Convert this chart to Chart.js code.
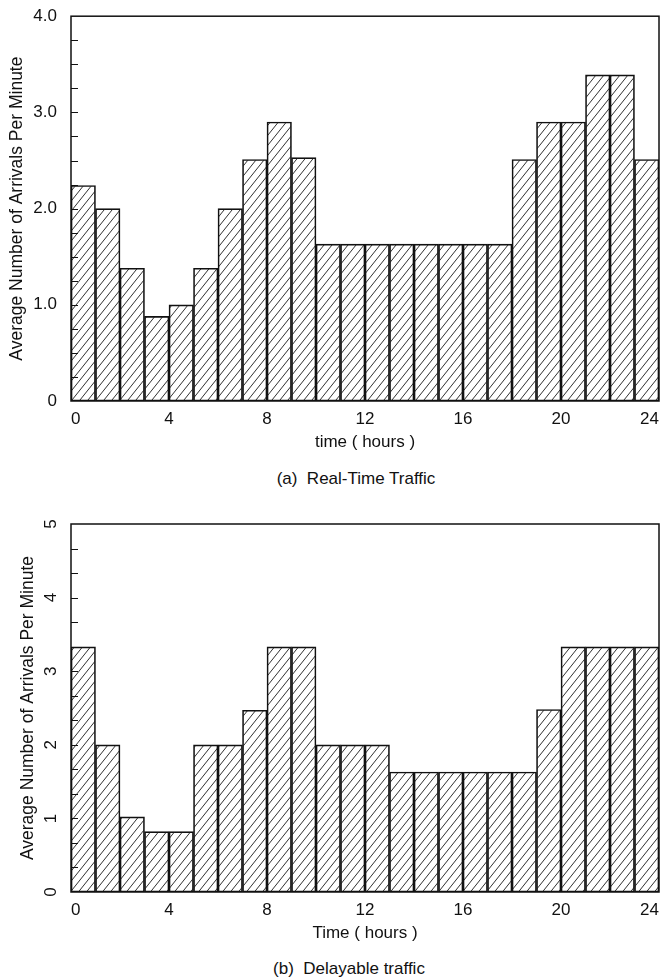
<!DOCTYPE html>
<html><head><meta charset="utf-8">
<script src="https://cdn.jsdelivr.net/npm/chart.js@4.4.1/dist/chart.umd.min.js"></script>
<style>
html,body{margin:0;padding:0;background:#fff;width:661px;height:977px;overflow:hidden;position:relative;}
canvas{position:absolute;left:0;}
.cap{position:absolute;font-family:'Liberation Sans',Arial,Helvetica,sans-serif;font-size:17px;color:#111;white-space:pre;transform:translate(-50%,-50%);line-height:1;}
</style></head><body>
<canvas id="chartA" width="661" height="460" style="top:0px"></canvas>
<div class="cap" style="left:356px;top:478px">(a)  Real-Time Traffic</div>
<canvas id="chartB" width="661" height="480" style="top:470px"></canvas>
<div class="cap" style="left:349px;top:968px">(b)  Delayable traffic</div>
<script>
// ---- data ----
const hourStart = [0,1,2,3,4,5,6,7,8,9,10,11,12,13,14,15,16,17,18,19,20,21,22,23];
const realTimeRate = [2.24,2.00,1.38,0.88,1.00,1.38,2.00,2.51,2.90,2.53,1.63,1.63,1.63,1.63,1.63,1.63,1.63,1.63,2.51,2.90,2.90,3.39,3.39,2.51];
const delayableRate = [3.33,2.00,1.02,0.82,0.82,2.00,2.00,2.47,3.33,3.33,2.00,2.00,2.00,1.63,1.63,1.63,1.63,1.63,1.63,2.48,3.33,3.33,3.33,3.33];
const xTickValues = [0,4,8,12,16,20,24];
const yTickValuesA = [0,1,2,3,4];
const yTickLabelsA = ['0','1.0','2.0','3.0','4.0'];
const yTickValuesB = [0,1,2,3,4,5];
const yTickLabelsB = ['0','1','2','3','4','5'];

const FONT = "'Liberation Sans', Arial, Helvetica, sans-serif";
Chart.defaults.font.family = FONT;
Chart.defaults.color = '#111';

function makeHatch() {
  const w = 8, h = 10;
  const c = document.createElement('canvas');
  c.width = w; c.height = h;
  const g = c.getContext('2d');
  g.strokeStyle = '#1a1a1a';
  g.lineWidth = 0.9;
  for (let k = -1; k <= 1; k++) {
    g.beginPath();
    g.moveTo(k * w - w, 2 * h);
    g.lineTo(k * w + 2 * w, -h);
    g.stroke();
  }
  return c;
}

const framePlugin = {
  id: 'frame',
  afterDatasetsDraw(chart, args, opts) {
    const {ctx, chartArea: a} = chart;
    const y = chart.scales.y;
    ctx.save();
    ctx.strokeStyle = '#111';
    ctx.lineWidth = 1;
    const n = Math.round((y.max - y.min) / opts.minorStep);
    for (let k = 1; k < n; k++) {
      const v = y.min + k * opts.minorStep;
      const py = Math.round(y.getPixelForValue(v)) + 0.5;
      ctx.beginPath();
      ctx.moveTo(a.left, py);
      ctx.lineTo(a.left + opts.tickLen, py);
      ctx.stroke();
    }
    ctx.lineWidth = 1.5;
    ctx.strokeRect(a.left, a.top, a.right - a.left, a.bottom - a.top);
    ctx.restore();
  }
};

function makeChart(id, values, cfg) {
  const ctx = document.getElementById(id).getContext('2d');
  const pattern = ctx.createPattern(makeHatch(), 'repeat');
  return new Chart(ctx, {
    type: 'bar',
    data: {
      datasets: [{
        data: hourStart.map((h, i) => ({x: h + 0.5, y: values[i]})),
        backgroundColor: pattern,
        borderColor: '#111',
        borderWidth: 1,
        borderSkipped: false,
        barPercentage: 1,
        categoryPercentage: 1
      }]
    },
    options: {
      responsive: false,
      animation: false,
      devicePixelRatio: 1,
      layout: {padding: {left: 0, right: 2, top: cfg.padTop, bottom: 0}},
      plugins: {
        legend: {display: false},
        tooltip: {enabled: false},
        title: {display: false},
        frame: {minorStep: cfg.minorStep, tickLen: 7}
      },
      scales: {
        x: {
          type: 'linear',
          min: 0, max: 24,
          offset: false,
          grid: {display: false},
          border: {display: false},
          afterBuildTicks: s => { s.ticks = xTickValues.map(v => ({value: v})); },
          afterFit: s => { s.height = cfg.xAxisH; s.paddingLeft = 0; s.paddingRight = 0; },
          ticks: {
            autoSkip: false, maxRotation: 0, align: 'inner',
            padding: cfg.xTickPad,
            font: {size: 17}, color: '#111',
            callback: v => String(v)
          },
          title: {
            display: true, text: cfg.xTitle,
            font: {size: 17}, color: '#111',
            padding: {top: 0, bottom: cfg.xTitlePadB}
          }
        },
        y: {
          min: 0, max: cfg.yMax,
          grid: {display: false},
          border: {display: false},
          afterBuildTicks: s => { s.ticks = cfg.yTickValues.map(v => ({value: v})); },
          afterFit: s => { s.width = 71; },
          ticks: Object.assign({
            autoSkip: false,
            padding: cfg.yTickPad,
            font: {size: 17}, color: '#111',
            callback: (v, i) => cfg.yTickLabels[i]
          }, cfg.yTickExtra || {}),
          title: {
            display: true, text: 'Average Number of Arrivals Per Minute',
            font: {size: 17.5}, color: '#111',
            padding: {top: cfg.yTitlePadT, bottom: 0}
          }
        }
      }
    },
    plugins: [framePlugin]
  });
}

makeChart('chartA', realTimeRate, {
  padTop: 13, xAxisH: 59, xTickPad: 0, xTitlePadB: 7, xTitle: 'time ( hours )',
  yMax: 4, yTickValues: yTickValuesA, yTickLabels: yTickLabelsA, yTickPad: 6,
  yTitlePadT: 7, minorStep: 0.25
});

makeChart('chartB', delayableRate, {
  padTop: 54, xAxisH: 58, xTickPad: 0, xTitlePadB: 6, xTitle: 'Time ( hours )',
  yMax: 5, yTickValues: yTickValuesB, yTickLabels: yTickLabelsB, yTickPad: 7,
  yTickExtra: {minRotation: 90, maxRotation: 90, crossAlign: 'center'},
  yTitlePadT: 18, minorStep: 1/3
});
</script>
</body></html>
